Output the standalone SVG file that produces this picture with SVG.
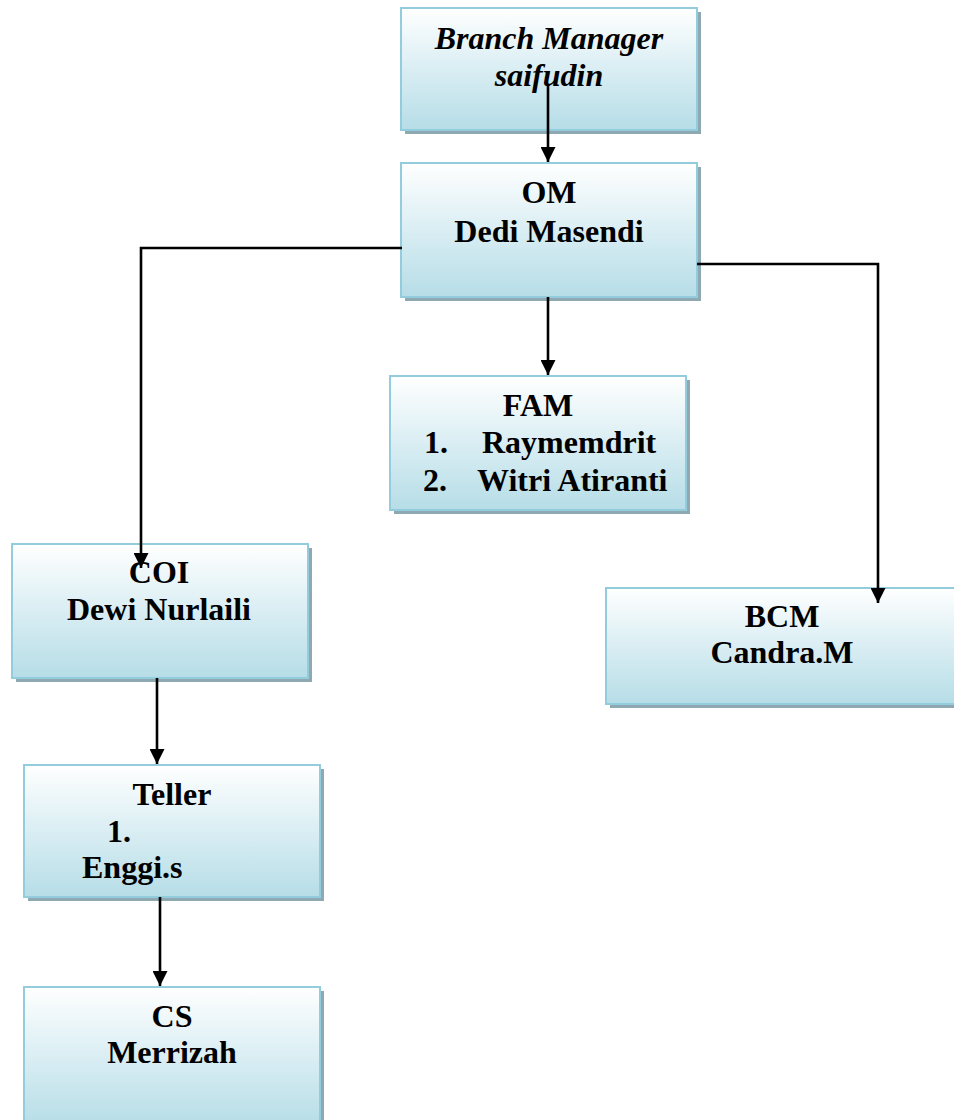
<svg xmlns="http://www.w3.org/2000/svg" width="954" height="1120" viewBox="0 0 954 1120">
<defs>
<linearGradient id="g" x1="0" y1="0" x2="0" y2="1">
<stop offset="0" stop-color="#ffffff"/>
<stop offset="0.55" stop-color="#d6ecf2"/>
<stop offset="1" stop-color="#b6dde7"/>
</linearGradient>
<marker id="ah" markerWidth="15" markerHeight="15" refX="15" refY="7.5" orient="auto" markerUnits="userSpaceOnUse">
<path d="M0,0 L15,7.5 L0,15 Z" fill="#000"/>
</marker>
</defs>
<style>
.sh{fill:#8fa9b3;}
.bx{fill:url(#g);stroke:#93cddd;stroke-width:2;}
.t{font-family:"Liberation Serif","Times New Roman",serif;font-weight:bold;font-size:32px;fill:#000;}
.c{text-anchor:middle;}
.i{font-style:italic;}
.ln{fill:none;stroke:#000;stroke-width:2.6;}
</style>
<rect width="954" height="1120" fill="#fff"/>
<g id="bm">
<rect class="sh" x="405" y="12" width="296" height="122"/>
<rect class="bx" x="401" y="8" width="296" height="122"/>
<text class="t c i" x="549" y="49">Branch Manager</text>
<text class="t c i" x="549" y="86">saifudin</text>
</g>
<g id="om">
<rect class="sh" x="405" y="167" width="296" height="134"/>
<rect class="bx" x="401" y="163" width="296" height="134"/>
<text class="t c" x="549" y="203">OM</text>
<text class="t c" x="549" y="242">Dedi Masendi</text>
</g>
<g id="fam">
<rect class="sh" x="394" y="380" width="296" height="134"/>
<rect class="bx" x="390" y="376" width="296" height="134"/>
<text class="t c" x="538" y="416">FAM</text>
<text class="t" x="424" y="453">1.</text>
<text class="t" x="482" y="453">Raymemdrit</text>
<text class="t" x="423" y="491">2.</text>
<text class="t" x="477" y="491">Witri Atiranti</text>
</g>
<g id="coi">
<rect class="sh" x="16" y="548" width="296" height="134"/>
<rect class="bx" x="12" y="544" width="296" height="134"/>
<text class="t c" x="159" y="583">COI</text>
<text class="t c" x="159" y="620">Dewi Nurlaili</text>
</g>
<g id="bcm">
<rect class="sh" x="610" y="592" width="350" height="116"/>
<rect class="bx" x="606" y="588" width="352" height="116"/>
<text class="t c" x="782" y="627">BCM</text>
<text class="t c" x="782" y="663">Candra.M</text>
</g>
<g id="teller">
<rect class="sh" x="28" y="769" width="296" height="132"/>
<rect class="bx" x="24" y="765" width="296" height="132"/>
<text class="t c" x="172" y="805">Teller</text>
<text class="t" x="107" y="842">1.</text>
<text class="t" x="82" y="878">Enggi.s</text>
</g>
<g id="cs">
<rect class="sh" x="28" y="991" width="296" height="140"/>
<rect class="bx" x="24" y="987" width="296" height="140"/>
<text class="t c" x="172" y="1027">CS</text>
<text class="t c" x="172" y="1063">Merrizah</text>
</g>
<g id="connectors">
<path class="ln" d="M548,84 V162" marker-end="url(#ah)"/>
<path class="ln" d="M548,297 V375" marker-end="url(#ah)"/>
<path class="ln" d="M402,248 H141 V568" marker-end="url(#ah)"/>
<path class="ln" d="M697,264 H878 V603" marker-end="url(#ah)"/>
<path class="ln" d="M157,678 V764" marker-end="url(#ah)"/>
<path class="ln" d="M160,897 V986" marker-end="url(#ah)"/>
</g>
</svg>
